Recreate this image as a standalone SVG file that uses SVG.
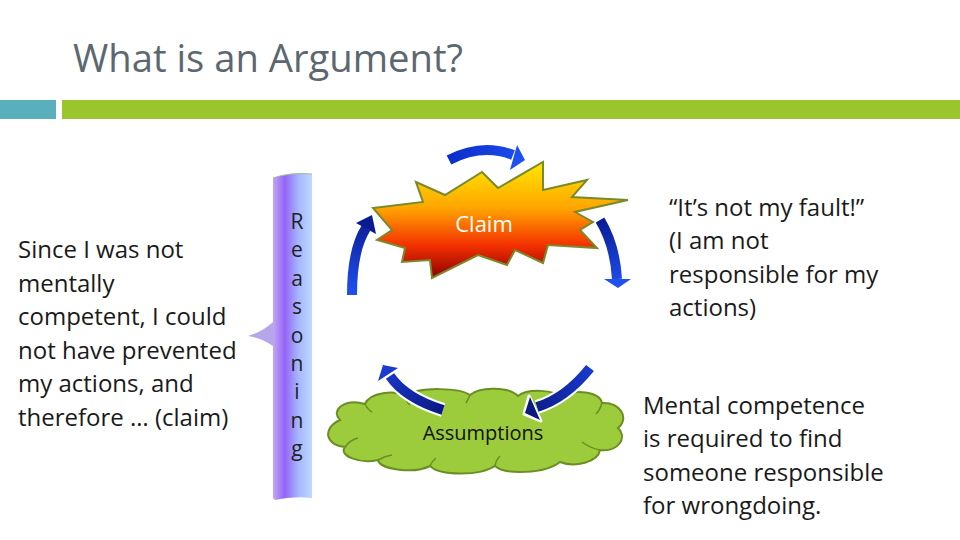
<svg xmlns="http://www.w3.org/2000/svg" width="960" height="540" viewBox="0 0 960 540">
<defs>
<style>
.t{font-family:"Open Sans","Liberation Sans",sans-serif;font-size:24px;fill:#1a1a1a}
.r{font-family:"Open Sans","Liberation Sans",sans-serif;font-size:21px;fill:#222;text-anchor:middle}
.ab{fill:none;stroke-width:10;stroke-linecap:butt}
.aw{fill:none;stroke:#fff;stroke-width:14;stroke-linecap:butt}
</style>
<linearGradient id="bar" x1="0" y1="0" x2="1" y2="0">
<stop offset="0" stop-color="#c0a8f4"/>
<stop offset="0.3" stop-color="#9464f6"/>
<stop offset="0.65" stop-color="#a6b6ff"/>
<stop offset="1" stop-color="#bcd8ff"/>
</linearGradient>
<linearGradient id="burst" x1="0" y1="0" x2="0" y2="1">
<stop offset="0" stop-color="#ffe800"/>
<stop offset="0.4" stop-color="#ffa400"/>
<stop offset="0.72" stop-color="#f43000"/>
<stop offset="1" stop-color="#8c0000"/>
</linearGradient>
<linearGradient id="gTop" gradientUnits="userSpaceOnUse" x1="447" y1="150" x2="525" y2="165">
<stop offset="0" stop-color="#0a2cc8"/>
<stop offset="1" stop-color="#1e50f0"/>
</linearGradient>
<linearGradient id="gLeft" gradientUnits="userSpaceOnUse" x1="350" y1="295" x2="372" y2="216">
<stop offset="0" stop-color="#2050f0"/>
<stop offset="1" stop-color="#0a1a90"/>
</linearGradient>
<linearGradient id="gRight" gradientUnits="userSpaceOnUse" x1="598" y1="218" x2="618" y2="288">
<stop offset="0" stop-color="#0a1a90"/>
<stop offset="1" stop-color="#2050f0"/>
</linearGradient>
<linearGradient id="gBot" gradientUnits="userSpaceOnUse" x1="380" y1="365" x2="445" y2="412">
<stop offset="0" stop-color="#1a3ad0"/>
<stop offset="1" stop-color="#0a1880"/>
</linearGradient>
<linearGradient id="gBot2" gradientUnits="userSpaceOnUse" x1="592" y1="366" x2="525" y2="414">
<stop offset="0" stop-color="#1a3ad0"/>
<stop offset="1" stop-color="#0a1880"/>
</linearGradient>
</defs>

<rect width="960" height="540" fill="#fff"/>

<g id="title">
<text x="73" y="72" font-family="'Open Sans','Liberation Sans',sans-serif" font-size="38" fill="#5c6770" textLength="390" lengthAdjust="spacingAndGlyphs">What is an Argument?</text>
<rect x="0" y="100" width="56" height="19" fill="#5aafbc"/>
<rect x="62" y="100" width="898" height="19" fill="#9bc52c"/>
</g>

<g id="premise">
<text class="t" x="18" y="258">Since I was not</text>
<text class="t" x="18" y="291.5">mentally</text>
<text class="t" x="18" y="325">competent, I could</text>
<text class="t" x="18" y="358.5">not have prevented</text>
<text class="t" x="18" y="392">my actions, and</text>
<text class="t" x="18" y="425.5">therefore … (claim)</text>
</g>

<g id="reasoning">
<path d="M273,322 Q262,332 248,336 Q262,338 273,346 Z" fill="#b4a6e8"/>
<path d="M273,178 Q290,172 312,174 L312,498 Q292,496 275,500 L273,498 Z" fill="url(#bar)"/>
<path d="M273,178 Q290,172 312,174" fill="none" stroke="#a8b890" stroke-width="1"/>
<text class="r" x="297" y="229">R</text>
<text class="r" x="297" y="257.4">e</text>
<text class="r" x="297" y="285.8">a</text>
<text class="r" x="297" y="314.2">s</text>
<text class="r" x="297" y="342.6">o</text>
<text class="r" x="297" y="371">n</text>
<text class="r" x="297" y="399.4">i</text>
<text class="r" x="297" y="427.8">n</text>
<text class="r" x="297" y="456.2">g</text>
</g>

<g id="assumptions">
<path d="M340,420 C330,410 345,398 365,404 C370,392 395,390 405,396 C420,386 460,388 470,395 C480,386 510,387 518,396 C528,388 555,390 560,397 C575,388 600,392 602,403 C620,402 630,418 618,428 C628,438 618,452 600,450 C598,462 575,468 560,462 C545,474 505,475 495,466 C480,476 440,476 430,466 C415,474 380,470 378,460 C360,464 338,456 345,447 C325,445 322,428 340,420 Z" fill="#9ccb3b" stroke="#6b8e23" stroke-width="2"/>
<path d="M365,404 Q368,410 372,412 M405,396 Q406,402 410,405 M470,395 Q468,400 466,403 M560,397 Q558,402 555,405 M602,403 Q600,410 596,414 M600,450 Q590,448 582,442 M495,466 Q496,460 500,456 M430,466 Q432,461 436,458 M378,460 Q385,456 392,455 M345,447 Q350,440 358,438" fill="none" stroke="#6b8e23" stroke-width="1.5"/>
<text x="483" y="440" font-family="'Open Sans','Liberation Sans',sans-serif" font-size="20" fill="#111" text-anchor="middle">Assumptions</text>
</g>

<g id="claim">
<polygon points="416,182 445,195 482,172 498,188 543,162 543,190 587,180 572,197 628,200 575,212 593,222 580,230 597,248 548,245 543,263 515,250 507,265 478,255 432,278 430,260 402,262 405,248 377,240 392,230 373,208 423,202" fill="url(#burst)" stroke="#7a8a2a" stroke-width="2" stroke-linejoin="miter"/>
<text x="484" y="232" font-family="'Open Sans','Liberation Sans',sans-serif" font-size="22" fill="#fff" text-anchor="middle">Claim</text>
</g>

<g id="connectors">
<path class="ab" d="M449,160 Q482,143 513,155" stroke="url(#gTop)"/>
<polygon points="517,145 525,160 510,170" fill="#1e50f0"/>

<path class="ab" d="M352,295 Q352,250 366,228" stroke="url(#gLeft)"/>
<polygon points="356,223 372,215 376,234" fill="#0a1a90"/>

<path class="ab" d="M600,220 Q615,245 617,279" stroke="url(#gRight)"/>
<polygon points="604,279 631,279 618,288" fill="#2050f0"/>

<path class="aw" d="M443,410 Q405,398 390,376"/>
<polygon points="376,383 383,362 400,367" fill="#fff" stroke="#fff" stroke-width="3" stroke-linejoin="round"/>
<path class="ab" d="M443,410 Q405,398 390,376" stroke="url(#gBot)"/>
<polygon points="378,381 383,365 398,368" fill="#1a3ad0"/>

<path class="aw" d="M590,368 Q566,398 537,407"/>
<polygon points="529,396 524,414 541,421" fill="#fff" stroke="#fff" stroke-width="3" stroke-linejoin="round"/>
<path class="ab" d="M590,368 Q566,398 537,407" stroke="url(#gBot2)"/>
<polygon points="530,397 525,413 540,420" fill="#0a1880"/>
</g>

<g id="conclusion">
<text class="t" x="669" y="216">“It’s not my fault!”</text>
<text class="t" x="669" y="249">(I am not</text>
<text class="t" x="669" y="283">responsible for my</text>
<text class="t" x="669" y="316">actions)</text>
</g>

<g id="warrant">
<text class="t" x="643" y="414">Mental competence</text>
<text class="t" x="643" y="447">is required to find</text>
<text class="t" x="643" y="481">someone responsible</text>
<text class="t" x="643" y="514">for wrongdoing.</text>
</g>
</svg>
